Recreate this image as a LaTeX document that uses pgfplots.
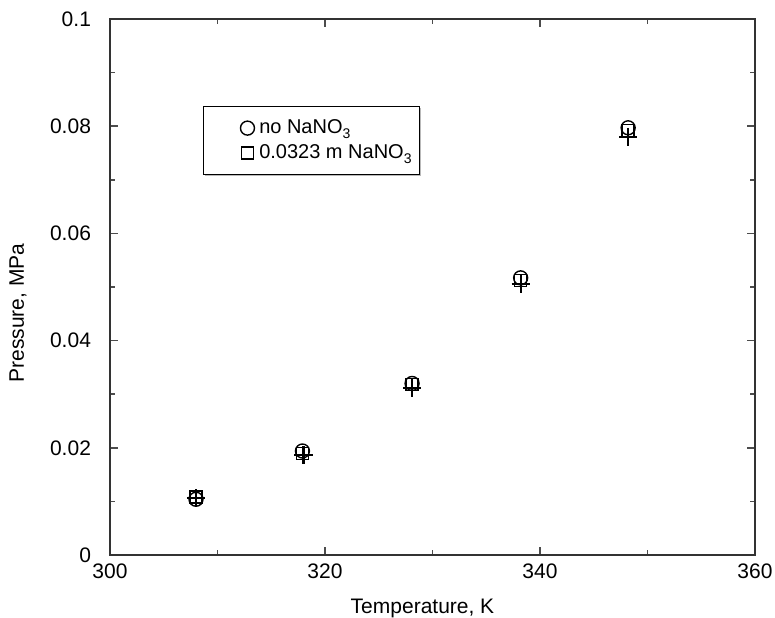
\documentclass[border=0pt]{standalone}
\usepackage{pgfplots}
\pgfplotsset{compat=1.18}
\usetikzlibrary{shadows}
\usepackage{fontspec}
\setmainfont{Liberation Sans}
\newcommand{\sub}[1]{\raisebox{-0.45ex}{\fontsize{7}{8}\selectfont #1}}
\begin{document}
\begin{tikzpicture}
\begin{axis}[
  name=ax,
  scale only axis,
  width=322.5pt, height=268pt,
  xmin=300, xmax=360, ymin=0, ymax=0.1,
  xtick={300,320,340,360}, ytick={0,0.02,0.04,0.06,0.08,0.1},
  minor xtick={310,330,350}, minor ytick={0.01,0.03,0.05,0.07,0.09},
  tick align=inside,
  major tick length=4pt, minor tick length=2.5pt,
  axis line style={line width=0.8pt, black!80},
  every tick/.style={black!70, line width=0.8pt},
  tick label style={font=\fontsize{10.5}{12}\selectfont},
  /pgf/number format/assume math mode=true,
  /pgf/number format/fixed,
  /pgf/number format/precision=2,
  yticklabel style={xshift=-6pt},
  xticklabel style={yshift=-1pt},
  legend style={at={(0.144,0.838)}, anchor=north west, draw=black, line width=0.8pt,
    font=\fontsize{10}{12}\selectfont, inner xsep=2pt, inner ysep=4.5pt,
    row sep=0pt, fill=white,
    drop shadow={shadow xshift=0.6pt, shadow yshift=-0.8pt, fill=black!55},
    nodes={text height=8pt, text depth=2.5pt, inner ysep=1pt, inner xsep=2pt}},
  legend cell align=left,
  legend image code/.code={\path (0pt,0pt) (23pt,0pt); \draw[#1] plot coordinates {(19.5pt,0pt)};},
]
\addplot[only marks, mark=o, mark size=3.5pt, mark options={line width=0.7pt, black}]
  coordinates {(308.0,0.0104) (317.9,0.0194) (328.1,0.0320) (338.2,0.0517) (348.2,0.0797)};
\addlegendentry{no NaNO\sub{3}}
\addplot[only marks, mark=square, mark size=3pt, mark options={line width=0.7pt, black}]
  coordinates {(308.0,0.0108) (317.9,0.0189) (328.1,0.0318) (338.2,0.0512) (348.2,0.0792)};
\addlegendentry{0.0323 m NaNO\sub{3}}
\addplot[only marks, mark=+, mark size=4.5pt, mark options={line width=1.1pt, black}, forget plot]
  coordinates {(308.0,0.0106) (318.0,0.0186) (328.1,0.0312) (338.2,0.0505) (348.2,0.0780)};
\end{axis}
\node[font=\fontsize{10.5}{12}\selectfont] at ([xshift=-5pt, yshift=-26.5pt]ax.south) {Temperature, K};
\node[font=\fontsize{10.5}{12}\selectfont, rotate=90] at ([xshift=-46pt, yshift=-13pt]ax.west) {Pressure, MPa};
\pgfresetboundingbox
\path ([xshift=-55pt,yshift=-31.5pt]ax.south west) rectangle ([xshift=10pt,yshift=9.5pt]ax.north east);
\end{tikzpicture}
\end{document}
